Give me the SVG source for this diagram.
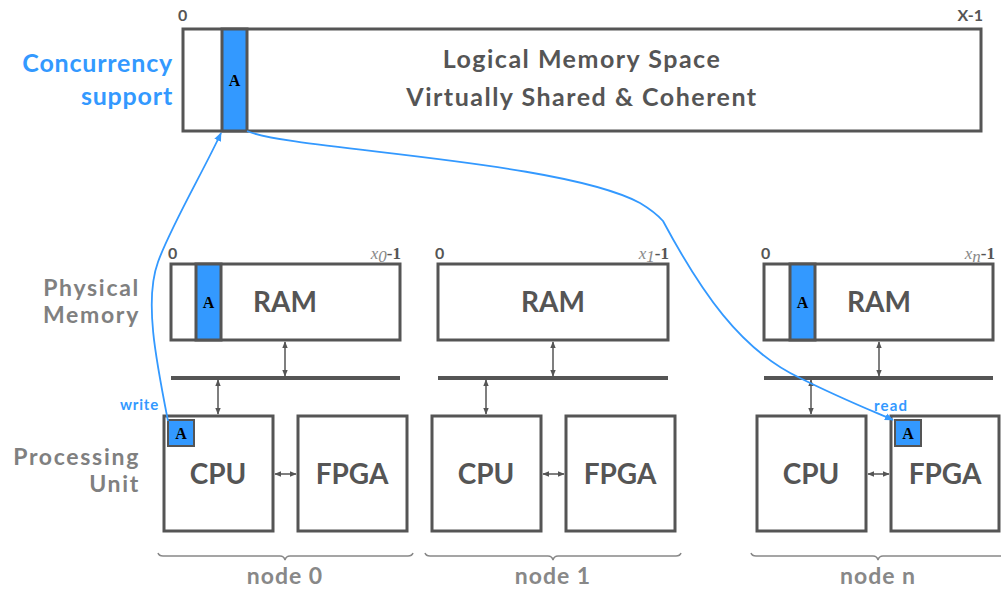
<svg xmlns="http://www.w3.org/2000/svg" width="1001" height="589" viewBox="0 0 1001 589">
<style>
.box{fill:#fff;stroke:#555;stroke-width:3}
.cell{fill:#3399ff;stroke:#555;stroke-width:3}
.sq{fill:#3399ff;stroke:#555;stroke-width:2}
.bus{stroke:#555;stroke-width:4}
.gl{stroke:#555;stroke-width:1.5;fill:none}
.bl{stroke:#3399ff;stroke-width:1.8;fill:none}
.big{font-family:Lato,"Open Sans",sans-serif;font-weight:bold;fill:#555;text-anchor:middle}
.title{font-size:25px;letter-spacing:1.5px}
.lab{font-family:Lato,"Open Sans",sans-serif;font-weight:bold;fill:#808080;text-anchor:end;font-size:23px;letter-spacing:1.7px}
.blab{font-family:Lato,"Open Sans",sans-serif;font-weight:bold;fill:#3399ff}
.idx{font-family:Lato,sans-serif;font-weight:bold;fill:#555;font-size:16px}
.a{font-family:"Liberation Serif","DejaVu Serif",serif;font-weight:bold;fill:#000;text-anchor:middle}
.mth{font-family:"Liberation Serif",serif;font-style:italic;fill:#888;font-size:17px}
.m1{font-family:"Liberation Serif",serif;font-weight:bold;fill:#555;font-size:17px}
.node{font-family:Lato,sans-serif;font-weight:bold;fill:#888;text-anchor:middle;font-size:23px;letter-spacing:1px}
.brace{stroke:#888;stroke-width:1.5;fill:none}
</style>
<defs>
<marker id="ga" viewBox="0 0 10 10" refX="9" refY="5" markerWidth="7" markerHeight="7" markerUnits="userSpaceOnUse" orient="auto-start-reverse"><path d="M0,1 L10,5 L0,9 z" fill="#555"/></marker>
<marker id="ba" viewBox="0 0 10 10" refX="9" refY="5" markerWidth="9" markerHeight="9" markerUnits="userSpaceOnUse" orient="auto"><path d="M0,1 L10,5 L0,9 z" fill="#3399ff"/></marker>
</defs>

<g id="labels">
<text class="blab" x="173" y="72" text-anchor="end" font-size="25" letter-spacing="0.8">Concurrency</text>
<text class="blab" x="173" y="105" text-anchor="end" font-size="25" letter-spacing="0.8">support</text>
<text class="lab" x="140" y="296">Physical</text>
<text class="lab" x="140" y="323">Memory</text>
<text class="lab" x="140" y="465">Processing</text>
<text class="lab" x="140" y="492">Unit</text>
</g>

<g id="logical">
<rect class="box" x="183" y="29" width="798" height="102"/>
<rect class="cell" x="222" y="29" width="25" height="102"/>
<text class="a" x="234.5" y="86" font-size="16">A</text>
<text class="idx" x="178" y="21">0</text>
<text class="idx" x="983" y="21" text-anchor="end">X-1</text>
<text class="big title" x="582" y="68">Logical Memory Space</text>
<text class="big title" x="582" y="106">Virtually Shared &amp; Coherent</text>
</g>

<g id="node0">
<rect class="box" x="171" y="264" width="229" height="76"/>
<rect class="cell" x="196" y="264" width="25" height="76"/>
<text class="a" x="208.5" y="308" font-size="16">A</text>
<text class="big" x="285" y="312" font-size="28">RAM</text>
<text class="idx" x="168" y="259">0</text>
<text x="401" y="259" text-anchor="end"><tspan class="mth">x</tspan><tspan class="mth" font-size="11" dy="3">0</tspan><tspan class="m1" dy="-3">-1</tspan></text>
<line class="bus" x1="171" y1="378" x2="400" y2="378"/>
<rect class="box" x="164" y="416" width="109" height="115"/>
<rect class="sq" x="168" y="420" width="26" height="26"/>
<text class="a" x="181" y="439" font-size="16">A</text>
<text class="big" x="218" y="484" font-size="28">CPU</text>
<rect class="box" x="298" y="416" width="109" height="115"/>
<text class="big" x="352" y="484" font-size="28">FPGA</text>
<path class="brace" d="M158,553 q1,3 5,3 L280,556 q4,0 5,4 q1,-4 5,-4 L408,556 q4,0 5,-3"/>
<text class="node" x="285" y="584">node 0</text>
</g>

<g id="node1">
<rect class="box" x="438" y="264" width="230" height="76"/>
<text class="big" x="553" y="312" font-size="28">RAM</text>
<text class="idx" x="435" y="259">0</text>
<text x="669" y="259" text-anchor="end"><tspan class="mth">x</tspan><tspan class="mth" font-size="11" dy="3">1</tspan><tspan class="m1" dy="-3">-1</tspan></text>
<line class="bus" x1="438" y1="378" x2="668" y2="378"/>
<rect class="box" x="432" y="416" width="109" height="115"/>
<text class="big" x="486" y="484" font-size="28">CPU</text>
<rect class="box" x="566" y="416" width="109" height="115"/>
<text class="big" x="620" y="484" font-size="28">FPGA</text>
<path class="brace" d="M425,553 q1,3 5,3 L548,556 q4,0 5,4 q1,-4 5,-4 L676,556 q4,0 5,-3"/>
<text class="node" x="553" y="584">node 1</text>
</g>

<g id="noden">
<rect class="box" x="764" y="264" width="229" height="76"/>
<rect class="cell" x="790" y="264" width="25" height="76"/>
<text class="a" x="802.5" y="308" font-size="16">A</text>
<text class="big" x="879" y="312" font-size="28">RAM</text>
<text class="idx" x="761" y="259">0</text>
<text x="995" y="259" text-anchor="end"><tspan class="mth">x</tspan><tspan class="mth" font-size="11" dy="3">n</tspan><tspan class="m1" dy="-3">-1</tspan></text>
<line class="bus" x1="764" y1="378" x2="993" y2="378"/>
<rect class="box" x="757" y="416" width="109" height="115"/>
<text class="big" x="811" y="484" font-size="28">CPU</text>
<rect class="box" x="891" y="416" width="108" height="115"/>
<rect class="sq" x="895" y="420" width="26" height="26"/>
<text class="a" x="908" y="439" font-size="16">A</text>
<text class="big" x="945" y="484" font-size="28">FPGA</text>
<path class="brace" d="M751,553 q1,3 5,3 L873,556 q4,0 5,4 q1,-4 5,-4 L1001,556"/>
<text class="node" x="878" y="584">node n</text>
</g>

<g id="connectors">
<line class="gl" x1="285" y1="342" x2="285" y2="376" marker-start="url(#ga)" marker-end="url(#ga)"/>
<line class="gl" x1="218" y1="380" x2="218" y2="414" marker-start="url(#ga)" marker-end="url(#ga)"/>
<line class="gl" x1="275" y1="474" x2="296" y2="474" marker-start="url(#ga)" marker-end="url(#ga)"/>
<line class="gl" x1="553" y1="342" x2="553" y2="376" marker-start="url(#ga)" marker-end="url(#ga)"/>
<line class="gl" x1="486" y1="380" x2="486" y2="414" marker-start="url(#ga)" marker-end="url(#ga)"/>
<line class="gl" x1="543" y1="474" x2="564" y2="474" marker-start="url(#ga)" marker-end="url(#ga)"/>
<line class="gl" x1="879" y1="342" x2="879" y2="376" marker-start="url(#ga)" marker-end="url(#ga)"/>
<line class="gl" x1="811" y1="380" x2="811" y2="414" marker-start="url(#ga)" marker-end="url(#ga)"/>
<line class="gl" x1="868" y1="474" x2="889" y2="474" marker-start="url(#ga)" marker-end="url(#ga)"/>
<path class="bl" d="M168,421 C156,360 144,300 158,262 C170,228 205,168 221,133" marker-end="url(#ba)"/>
<path class="bl" d="M247,131 C290,150 560,160 640,203 Q655,212 663,221 C700,290 740,350 800,378 C840,398 870,410 893,420" marker-end="url(#ba)"/>
<text class="blab" x="159" y="410" text-anchor="end" font-size="15" letter-spacing="0.8">write</text>
<text class="blab" x="874" y="411" font-size="15" letter-spacing="1.2">read</text>
</g>
</svg>
